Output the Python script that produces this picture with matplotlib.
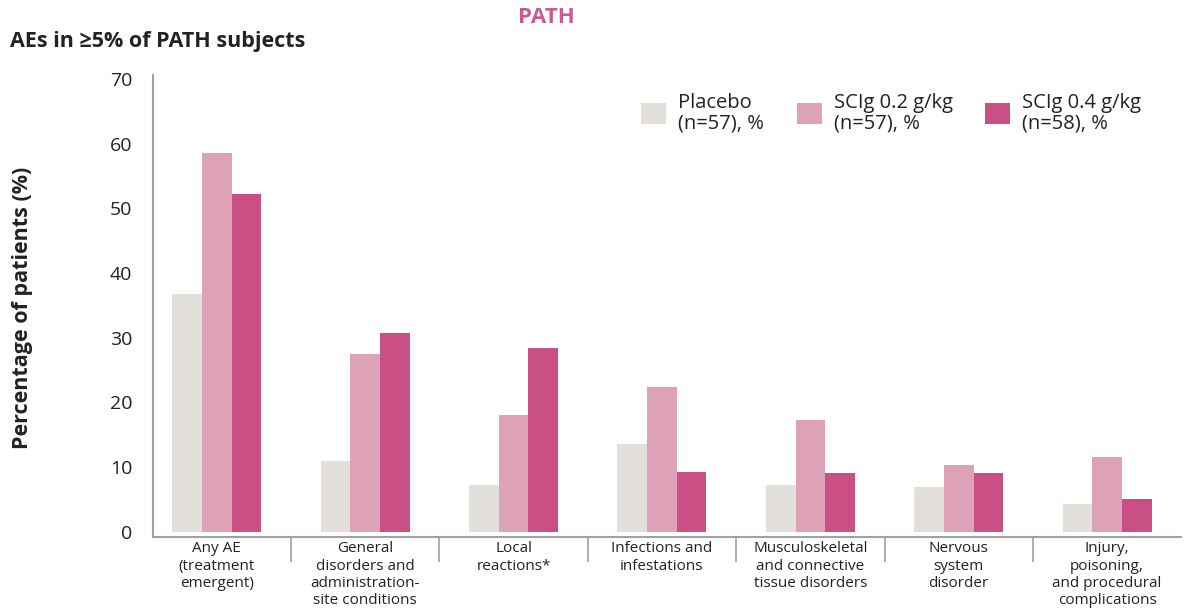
import numpy as np
import matplotlib.pyplot as plt
from matplotlib.ticker import FixedLocator

plt.rcParams['font.family'] = ['Open Sans', 'DejaVu Sans']

# Данные
categories = ['Any AE\n(treatment\nemergent)',
              'General\ndisorders and\nadministration-\nsite conditions',
              'Local\nreactions*',
              'Infections and\ninfestations',
              'Musculoskeletal\nand connective\ntissue disorders',
              'Nervous\nsystem\ndisorder',
              'Injury,\npoisoning,\nand procedural\ncomplications']
placebo = [36.8, 11.0, 7.3, 13.6, 7.3, 7.0, 4.3]
scig_02 = [58.6, 27.5, 18.1, 22.4, 17.3, 10.4, 11.6]
scig_04 = [52.2, 30.8, 28.4, 9.3, 9.1, 9.1, 5.1]
series_labels = ['Placebo\n(n=57), %', 'SCIg 0.2 g/kg\n(n=57), %', 'SCIg 0.4 g/kg\n(n=58), %']
colors = ['#E3E0DB', '#DDA2B8', '#C94F85']
y_ticks = [0, 10, 20, 30, 40, 50, 60, 70]

text_color = '#222222'
axis_color = '#A0A0A0'

fig = plt.figure(figsize=(11.92, 6.13), dpi=100)
ax = fig.add_axes([0.1284, 0.124, 0.8626, 0.7537])

x = np.arange(len(categories))
w = 0.2
for i, (vals, lab, c) in enumerate(zip([placebo, scig_02, scig_04], series_labels, colors)):
    ax.bar(x + (i - 1) * w, vals, width=w, color=c, label=lab, zorder=2)

ax.set_xlim(-0.43, len(categories) - 0.5)
ax.set_ylim(-0.8, 70.6)

# Оси
for s in ['top', 'right']:
    ax.spines[s].set_visible(False)
for s in ['left', 'bottom']:
    ax.spines[s].set_color(axis_color)
    ax.spines[s].set_linewidth(1.5)

ax.set_yticks(y_ticks)
ax.set_yticklabels([str(t) for t in y_ticks], fontsize=14, color=text_color)
ax.tick_params(axis='y', length=0, pad=15)

ax.set_xticks(x)
ax.set_xticklabels(categories, fontsize=11, color=text_color, linespacing=1.22, va='top')
ax.tick_params(axis='x', which='major', length=0, pad=3)
ax.xaxis.set_minor_locator(FixedLocator(x[:-1] + 0.5))
ax.tick_params(axis='x', which='minor', length=18, width=1.2, color=axis_color, direction='out')

ax.set_ylabel('Percentage of patients (%)', fontsize=15.5, fontweight='bold', color=text_color)
ax.yaxis.set_label_coords(-0.1167, 0.495)

fig.text(0.0084, 0.933, 'AEs in ≥5% of PATH subjects', fontsize=15.5, fontweight='bold',
         color=text_color, va='center', ha='left')
fig.text(0.458, 0.972, 'PATH', fontsize=16, fontweight='bold', color='#CC5A92',
         va='center', ha='center')

leg = ax.legend(loc='upper left', bbox_to_anchor=(0.4747, 0.962), ncol=3, frameon=False,
                fontsize=14.5, handlelength=1.25, handleheight=1.25, handletextpad=0.6,
                columnspacing=1.6, labelspacing=0.2, borderpad=0, borderaxespad=0)
for t in leg.get_texts():
    t.set_color(text_color)
    t.set_linespacing(1.05)

plt.savefig('out.png', dpi=100)
